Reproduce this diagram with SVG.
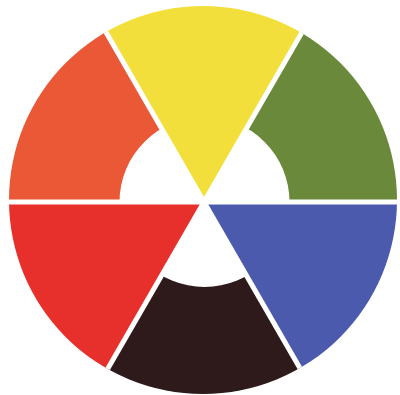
<svg xmlns="http://www.w3.org/2000/svg" width="400" height="395" viewBox="0 0 400 395">
<style>
.orange{fill:#ea5836}
.yellow{fill:#f3df3c}
.green{fill:#6a893a}
.blue{fill:#4c5aae}
.brown{fill:#2e1a1b}
.red{fill:#e72f2b}
.gap{stroke:#ffffff;stroke-width:5;fill:none}
</style>
<defs>
<clipPath id="outer"><circle cx="203" cy="200" r="194"/></clipPath>
</defs>
<rect width="400" height="395" fill="#ffffff"/>
<g clip-path="url(#outer)">
<g id="green-seg"><polygon class="green" points="204,202 464,202 334,-23.2"/></g>
<g id="orange-seg"><polygon class="orange" points="204,202 74,-23.2 -56,202"/></g>
<g id="brown-seg"><polygon class="brown" points="204,202 74,427.2 334,427.2"/></g>
<circle id="inner-hole" cx="204.5" cy="202" r="85" fill="#ffffff"/>
<g id="yellow-seg"><polygon class="yellow" points="204,202 334,-23.2 74,-23.2"/></g>
<g id="red-seg"><polygon class="red" points="204,202 -56,202 74,427.2"/></g>
<g id="blue-seg"><polygon class="blue" points="204,202 334,427.2 464,202"/></g>
<g id="gaps">
<line class="gap" x1="204" y1="202" x2="464" y2="202"/>
<line class="gap" x1="204" y1="202" x2="-56" y2="202"/>
<line class="gap" x1="204" y1="202" x2="334" y2="-23.2"/>
<line class="gap" x1="204" y1="202" x2="74" y2="-23.2"/>
<line class="gap" x1="204" y1="202" x2="74" y2="427.2"/>
<line class="gap" x1="204" y1="202" x2="334" y2="427.2"/>
</g>
</g>
</svg>
